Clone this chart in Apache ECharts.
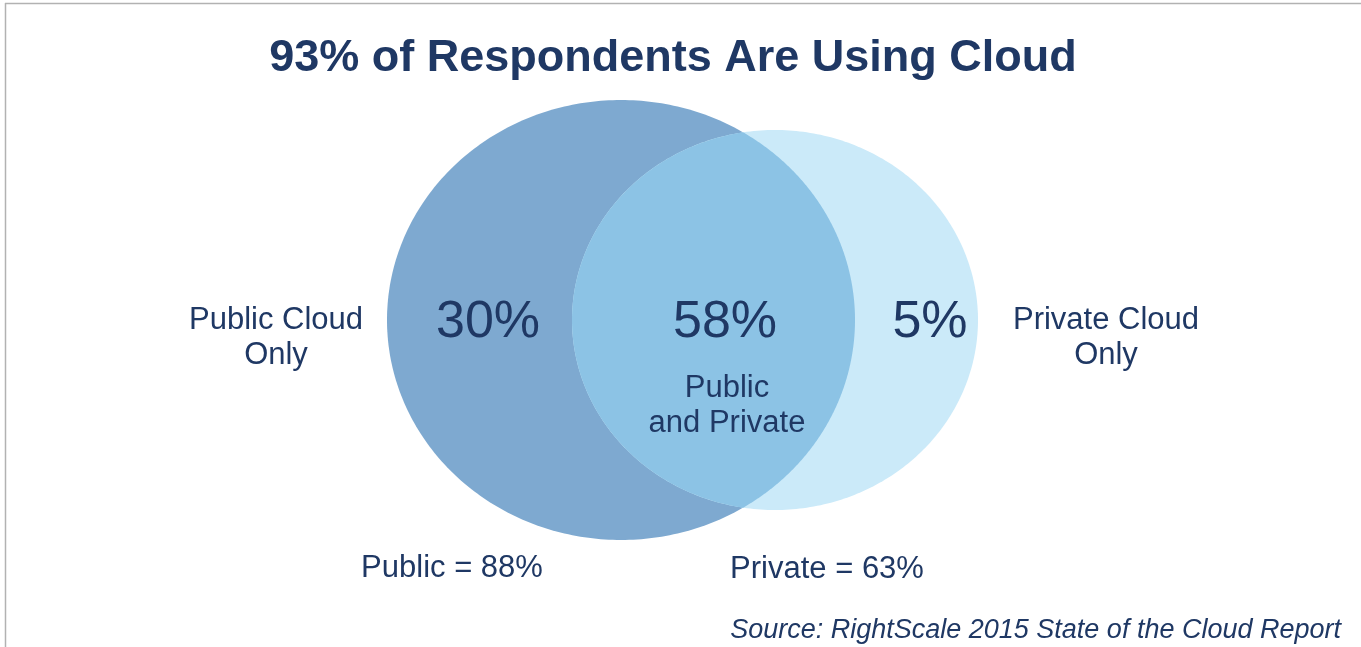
<!DOCTYPE html>
<html><head><meta charset="utf-8">
<script src="https://cdn.jsdelivr.net/npm/echarts@6/dist/echarts.min.js"></script>
<style>html,body{margin:0;padding:0;background:#fff;overflow:hidden}#c{width:1361px;height:647px}</style>
</head><body><div id="c"></div>
<script>
// ---- data ----
const titleText = '93% of Respondents Are Using Cloud';
const sourceText = 'Source: RightScale 2015 State of the Cloud Report';
const setNames = ['Public', 'Private'];
const setValues = [88, 63];
const regionNames = ['Public Cloud\nOnly', 'Public\nand Private', 'Private Cloud\nOnly'];
const regionValues = [30, 58, 5];

// ---- layout (units of the hidden axes) ----
const FONT = "'Liberation Sans', Arial, sans-serif";
const TEXT = '#1F3864';
const ellipses = [
  { cx: 621, cy: 320, rx: 234, ry: 220 },
  { cx: 775, cy: 320, rx: 203, ry: 190 }
];
const fills = ['#7EA9D0', '#CBEAF9', '#8CC3E5'];
const valuePos = [[488, 323], [725, 323], [930, 323]];
const namePos = [[276, 337.5], [727, 405.5], [1106, 337.5]];
const totalPos = [[452, 568], [827, 569]];

function ellipsePts(e, n) {
  const p = [];
  for (let i = 0; i < n; i++) {
    const t = 2 * Math.PI * i / n;
    p.push([e.cx + e.rx * Math.cos(t), e.cy + e.ry * Math.sin(t)]);
  }
  return p;
}
function halfW(e, y) {
  const k = 1 - Math.pow((y - e.cy) / e.ry, 2);
  return k > 0 ? e.rx * Math.sqrt(k) : -1;
}
function lensPts(a, b) {
  const top = Math.max(a.cy - a.ry, b.cy - b.ry), bot = Math.min(a.cy + a.ry, b.cy + b.ry);
  const N = 800, L = [], R = [];
  for (let i = 0; i <= N; i++) {
    const y = top + (bot - top) * i / N;
    const ha = halfW(a, y), hb = halfW(b, y);
    if (ha < 0 || hb < 0) continue;
    const l = Math.max(a.cx - ha, b.cx - hb), r = Math.min(a.cx + ha, b.cx + hb);
    if (l <= r) { L.push([l, y]); R.push([r, y]); }
  }
  return R.concat(L.reverse());
}

const vennData = setValues.map((v, i) => ({ name: setNames[i], value: [i, v] }));
vennData.push({ name: 'Public and Private', value: [2, regionValues[1]] });

const chart = echarts.init(document.getElementById('c'), null, { renderer: 'canvas' });
chart.setOption({
  animation: false,
  backgroundColor: '#ffffff',
  title: [{
    text: titleText, left: 668, top: 31, textAlign: 'center',
    textStyle: { fontFamily: FONT, fontSize: 45, fontWeight: 'bold', color: TEXT }
  }, {
    text: sourceText, right: 15, top: 612,
    textStyle: { fontFamily: FONT, fontSize: 27, fontStyle: 'italic', fontWeight: 'normal', color: TEXT }
  }],
  grid: { left: 0, right: 0, top: 0, bottom: 0 },
  xAxis: { type: 'value', min: 0, max: 1361, show: false },
  yAxis: { type: 'value', min: 0, max: 647, inverse: true, show: false },
  graphic: [
    { type: 'line', shape: { x1: 5, y1: 3.5, x2: 1361, y2: 3.5 }, style: { stroke: '#B2B2B2', lineWidth: 1.5 } },
    { type: 'line', shape: { x1: 5.5, y1: 3, x2: 5.5, y2: 647 }, style: { stroke: '#B2B2B2', lineWidth: 1.5 } }
  ],
  series: [{
    type: 'custom', name: 'venn', data: vennData, silent: true,
    renderItem: function (params, api) {
      const idx = api.value(0);
      const pts = idx < 2 ? ellipsePts(ellipses[idx], 360) : lensPts(ellipses[0], ellipses[1]);
      return { type: 'polygon', shape: { points: pts.map(p => api.coord(p)) }, style: { fill: fills[idx] } };
    }
  }, {
    type: 'custom', name: 'regions', silent: true,
    data: regionValues.map((v, i) => ({ name: regionNames[i], value: [i, v] })),
    renderItem: function (params, api) {
      const i = api.value(0), v = api.value(1);
      const pv = api.coord(valuePos[i]), pn = api.coord(namePos[i]);
      return { type: 'group', children: [
        { type: 'text', x: pv[0], y: pv[1], style: { text: v + '%', fill: TEXT, font: '52px ' + FONT, align: 'center', verticalAlign: 'middle' } },
        { type: 'text', x: pn[0], y: pn[1], style: { text: regionNames[i], fill: TEXT, font: '31px ' + FONT, align: 'center', verticalAlign: 'middle', lineHeight: 35 } }
      ] };
    }
  }, {
    type: 'custom', name: 'totals', silent: true,
    data: setValues.map((v, i) => ({ name: setNames[i], value: [i, v] })),
    renderItem: function (params, api) {
      const i = api.value(0), v = api.value(1);
      const p = api.coord(totalPos[i]);
      return { type: 'text', x: p[0], y: p[1], style: { text: setNames[i] + ' = ' + v + '%', fill: TEXT, font: '31px ' + FONT, align: 'center', verticalAlign: 'middle' } };
    }
  }]
});
</script></body></html>
